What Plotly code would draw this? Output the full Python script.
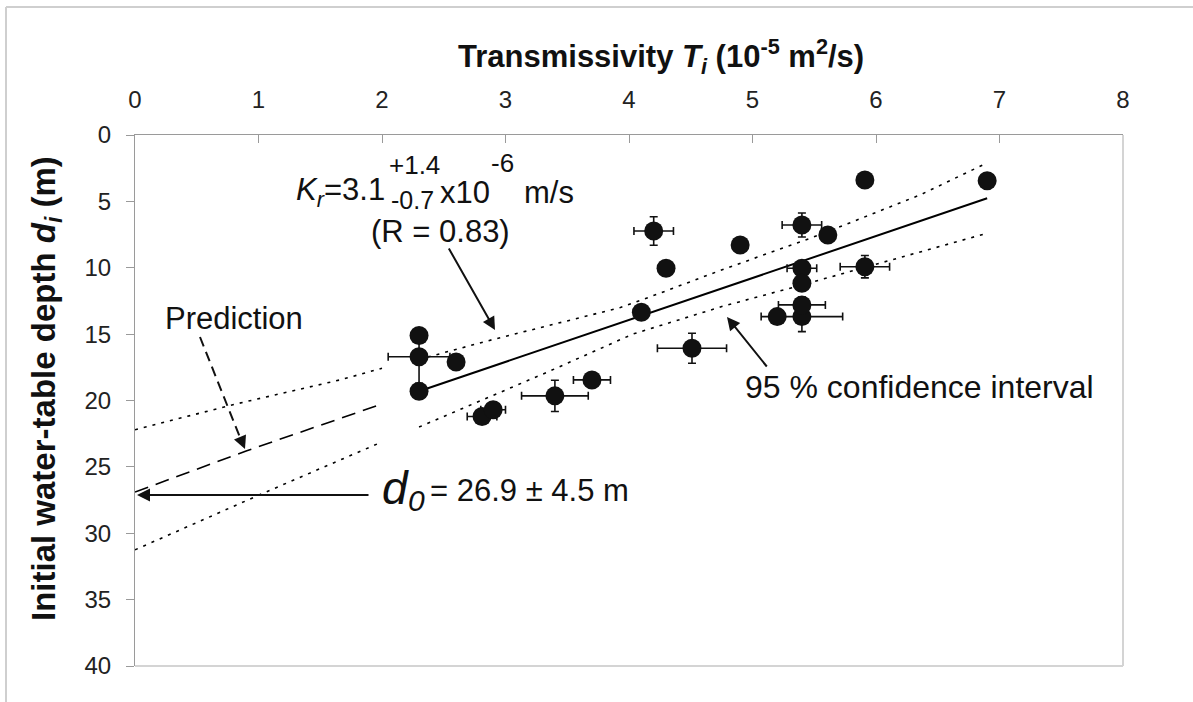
import plotly.graph_objects as go

# measured wells: transmissivity (1e-5 m2/s) vs initial water-table depth (m)
T = [2.30, 2.30, 2.60, 2.30, 2.81, 2.90, 3.40, 3.70, 4.10, 4.51, 4.20, 4.30,
     4.90, 5.40, 5.61, 5.91, 6.90, 5.40, 5.40, 5.91, 5.20, 5.40, 5.40]
d = [15.1, 16.7, 17.1, 19.3, 21.2, 20.7, 19.65, 18.45, 13.35, 16.06, 7.23, 10.04,
     8.28, 6.78, 7.53, 3.39, 3.44, 10.04, 11.17, 9.92, 13.68, 13.68, 12.8]
T_err = [0, 0.25, 0, 0, 0.12, 0.10, 0.27, 0.15, 0, 0.28, 0.16, 0,
         0, 0.16, 0, 0, 0, 0.12, 0, 0.20, 0, 0.33, 0.19]
d_err = [0, 2.0, 0, 0, 0.4, 0.3, 1.18, 0.3, 0, 1.13, 1.07, 0,
         0, 0.9, 0, 0, 0, 0.3, 0, 0.84, 0, 1.13, 0.6]

# regression line and its extrapolation
fit_T = [2.3, 6.9]
fit_d = [19.3, 4.77]
pred_T = [0, 0.9, 2.0]
pred_d = [26.9, 23.8, 20.26]

# 95 % confidence band
ci_up_T = [2.3, 2.90, 3.93, 4.14, 4.74, 5.55, 6.36, 6.9]
ci_up_d = [16.9, 15.4, 13.0, 12.3, 10.2, 7.5, 4.5, 2.1]
ci_lo_T = [2.3, 3.33, 4.03, 4.76, 5.36, 5.55, 6.9]
ci_lo_d = [22.0, 17.9, 15.0, 12.9, 11.4, 10.9, 7.4]
ci_up_ext_T = [0, 0.8, 1.66, 2.0]
ci_up_ext_d = [22.2, 20.3, 18.45, 17.57]
ci_lo_ext_T = [0, 1.01, 1.98]
ci_lo_ext_d = [31.25, 27.1, 23.2]

FONT = "Liberation Sans, Arial, sans-serif"


def at(px, py):
    # pixel position on the page -> data coordinates
    return (px - 135) / 123.5, (py - 135) / 13.275


def paper(px, py):
    return (px - 135) / 988, (666 - py) / 531


fig = go.Figure()

dot = dict(color="black", width=1.6, dash="3px,6px")
for xs, ys in [(ci_up_T, ci_up_d), (ci_lo_T, ci_lo_d),
               (ci_up_ext_T, ci_up_ext_d), (ci_lo_ext_T, ci_lo_ext_d)]:
    fig.add_trace(go.Scatter(x=xs, y=ys, mode="lines", line=dot, hoverinfo="skip"))

fig.add_trace(go.Scatter(x=pred_T, y=pred_d, mode="lines",
                         line=dict(color="black", width=1.6, dash="14px,8px")))
fig.add_trace(go.Scatter(x=fit_T, y=fit_d, mode="lines",
                         line=dict(color="black", width=2)))

fig.add_trace(go.Scatter(
    x=T, y=d, mode="markers",
    marker=dict(size=19, color="#111111"),
    error_x=dict(type="data", array=T_err, color="#111111", thickness=1.6, width=4),
    error_y=dict(type="data", array=d_err, color="#111111", thickness=1.6, width=4),
))

ann = []


def text(px, py, s, size=31, anchor="center", **kw):
    x, y = paper(px, py)
    ann.append(dict(x=x, y=y, xref="paper", yref="paper", text=s, showarrow=False,
                    xanchor=anchor, yanchor="middle",
                    font=dict(family=FONT, size=size, color="#111111"), **kw))


def arrow(tx, ty, hx, hy):
    x, y = at(hx, hy)
    ax, ay = at(tx, ty)
    ann.append(dict(x=x, y=y, ax=ax, ay=ay, xref="x", yref="y", axref="x", ayref="y",
                    text="", showarrow=True, arrowhead=2, arrowsize=1.3,
                    arrowwidth=2, arrowcolor="#111111", standoff=0))


# axis titles
text(661, 56, "<b>Transmissivity <i>T<sub>i</sub></i> (10<sup>-5</sup> m<sup>2</sup>/s)</b>", size=31)
text(46, 389, "<b>Initial water-table depth <i>d<sub>i</sub></i> (m)</b>", size=33, textangle=-90)

# hydraulic conductivity label
text(387, 192, "<i>K<sub>r</sub></i>=3.1", anchor="right")
text(387, 165, "+1.4", size=26, anchor="left")
text(389, 200, "-0.7", size=25, anchor="left")
text(438, 192, "x10", anchor="left")
text(489, 163, "-6", size=26, anchor="left")
text(522, 192, "m/s", anchor="left")
text(440, 231, "(R = 0.83)")
arrow(448, 247, 495, 330)

# prediction
text(234, 318, "Prediction")
x0, y0 = at(200, 337)
x1, y1 = at(241, 440)
fig.add_shape(type="line", x0=x0, y0=y0, x1=x1, y1=y1, xref="x", yref="y",
              line=dict(color="#111111", width=2, dash="10px,6px"))
arrow(240, 437, 245, 449)

# confidence interval
text(743, 387, "95 % confidence interval", size=32, anchor="left")
arrow(768, 368, 727, 317)

# intercept
text(380, 488, "<i>d</i>", size=46, anchor="left")
text(406, 500, "<i>0</i>", size=30, anchor="left")
text(428, 490, "= 26.9 ± 4.5 m", anchor="left")
arrow(370, 495, 137, 495)

fig.update_layout(annotations=ann)

# plot box (right / bottom) and outer frame
fig.add_shape(type="line", xref="paper", yref="paper", x0=1, x1=1, y0=0, y1=1,
              line=dict(color="#d4d4d4", width=2))
fig.add_shape(type="line", xref="paper", yref="paper", x0=0, x1=1, y0=0, y1=0,
              line=dict(color="#d4d4d4", width=2))
fx0, fy0 = paper(6, 7)
fx1, fy1 = paper(1193, 702)
fig.add_shape(type="line", xref="paper", yref="paper", x0=fx0, x1=fx1, y0=fy0, y1=fy0,
              line=dict(color="#cfcfcf", width=2))
fig.add_shape(type="line", xref="paper", yref="paper", x0=fx0, x1=fx0, y0=fy0, y1=fy1,
              line=dict(color="#cfcfcf", width=2))

fig.update_xaxes(range=[0, 8], side="top", dtick=1, showgrid=False, zeroline=False,
                 showline=True, linecolor="#9a9a9a", linewidth=1,
                 ticks="inside", ticklen=8, tickcolor="#9a9a9a",
                 tickfont=dict(family=FONT, size=24, color="#222222"),
                 ticklabelstandoff=16)
fig.update_yaxes(range=[40, 0], dtick=5, showgrid=False, zeroline=False,
                 showline=True, linecolor="#9a9a9a", linewidth=1,
                 ticks="outside", ticklen=8, tickcolor="#9a9a9a",
                 tickfont=dict(family=FONT, size=24, color="#222222"),
                 ticklabelstandoff=10)

fig.update_layout(
    width=1193, height=702,
    margin=dict(l=135, r=70, t=135, b=36),
    showlegend=False,
    plot_bgcolor="white", paper_bgcolor="white",
    font=dict(family=FONT),
)

fig.write_html("out.html", config={"displayModeBar": False},
               post_script="document.body.style.margin='0';")
